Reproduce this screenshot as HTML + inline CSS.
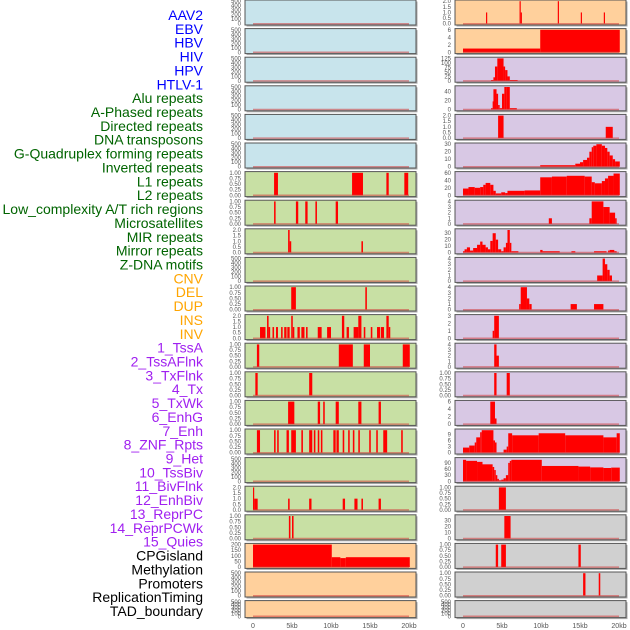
<!DOCTYPE html>
<html><head><meta charset="utf-8"><style>
body{margin:0;background:#fff;width:630px;height:630px;overflow:hidden}
svg{display:block;font-family:"Liberation Sans",sans-serif}
</style></head><body>
<svg id="c" width="630" height="630" viewBox="0 0 630 630"></svg>
<script>
const trackLabels=["AAV2","EBV","HBV","HIV","HPV","HTLV-1","Alu repeats","A-Phased repeats","Directed repeats","DNA transposons","G-Quadruplex forming repeats","Inverted repeats","L1 repeats","L2 repeats","Low_complexity A/T rich regions","Microsatellites","MIR repeats","Mirror repeats","Z-DNA motifs","CNV","DEL","DUP","INS","INV","1_TssA","2_TssAFlnk","3_TxFlnk","4_Tx","5_TxWk","6_EnhG","7_Enh","8_ZNF_Rpts","9_Het","10_TssBiv","11_BivFlnk","12_EnhBiv","13_ReprPC","14_ReprPCWk","15_Quies","CPGisland","Methylation","Promoters","ReplicationTiming","TAD_boundary"];
const labelGroups=["viral","viral","viral","viral","viral","viral","rep","rep","rep","rep","rep","rep","rep","rep","rep","rep","rep","rep","rep","sv","sv","sv","sv","sv","cs","cs","cs","cs","cs","cs","cs","cs","cs","cs","cs","cs","cs","cs","cs","oth","oth","oth","oth","oth"];
const T500=["0","100","200","300","400","500"],T1=["0.00","0.25","0.50","0.75","1.00"],T2=["0.0","0.5","1.0","1.5","2.0"];
const trackTicks=[T500,T500,T500,T500,T500,T500,T1,T1,T2,T500,T1,T2,T1,T1,T1,T1,T500,T2,T1,["0","50","100","150","200"],T500,T500,
T2,["0","2","4","6"],["0","25","50","75","100","125"],["0","20","40"],T2,["0","10","20","30"],["0","20","40","60"],["0","1","2","3","4"],["0","10","20","30"],["0","1","2","3","4"],["0","1","2","3","4"],["0","1","2","3"],["0","1","2","3","4"],T1,["0","2","4","6"],["0","3","6","9"],["0","30","60","90"],T1,["0","10","20","30"],T1,T1,T500];
const trackMax=[500,500,500,500,500,500,1,1,2,500,1,2,1,1,1,1,500,2,1,200,500,500,2,6,125,50,2,30,60,4,35,4,4,3,4,1,6,11,110,1,38,1,1,500];
const trackSegments=[[],[],[],[],[],[],
[[2.7,3.2,1],[12.7,14.1,1],[17.1,17.4,1],[19.4,19.9,1]],
[[2.7,2.9,1],[5.5,5.8,1],[6.7,7.0,1],[8.0,8.2,1],[10.6,10.9,1]],
[[4.5,4.7,2],[4.7,4.9,1],[13.9,14.1,1]],
[],
[[4.9,5.5,1],[14.4,14.6,1]],
[[0.9,1.6,1],[1.8,2.0,2],[2.0,2.2,1],[2.5,2.7,1],[2.95,3.2,1],[3.6,3.8,1],[4.0,4.3,1],[4.4,4.7,1],[4.9,5.1,2],[5.1,5.3,1],[5.7,6.0,1],[6.2,6.6,1],[6.8,7.0,1],[8.3,8.8,1],[9.5,10.0,1],[11.4,11.7,2],[12.0,12.3,1],[12.9,13.5,1],[13.5,13.9,2],[14.2,14.4,1],[15.1,15.3,1],[15.9,16.3,1],[16.4,16.8,1],[17.1,17.4,2],[17.4,17.6,1]],
[[0.5,0.8,1],[11.0,12.8,1],[14.2,15.0,1],[19.2,20.1,1]],
[[0.3,0.6,1],[7.2,7.6,1]],
[[4.5,5.3,1],[8.3,8.6,1],[9.0,9.2,1],[10.6,11.0,1],[13.5,13.9,1],[16.1,16.4,1]],
[[0.5,0.9,1],[2.7,2.9,1],[3.1,3.3,1],[4.3,4.6,1],[4.9,5.5,1],[6.2,6.4,1],[7.2,7.6,1],[7.8,8.0,1],[8.3,8.5,1],[8.7,8.9,1],[10.3,10.6,1],[10.7,11.0,1],[11.5,11.7,1],[12.2,12.4,1],[12.8,13.0,1],[13.5,13.7,1],[14.9,15.1,1],[15.8,16.0,1],[16.7,17.2,1],[19.0,19.2,1]],
[],
[[0,0.15,2],[0.15,0.6,1],[4.5,4.7,1],[7.2,7.5,1],[11.5,11.8,1],[13.0,13.4,1],[13.9,14.1,1],[16.1,16.4,1]],
[[4.6,4.8,1],[5.0,5.2,1]],
[[0,10.1,200],[10.1,11.2,88],[11.2,11.9,80],[11.9,20.1,88]],
[],[],
[[2.95,3.1,1],[7.25,7.4,2],[7.4,7.5,1],[12.15,12.3,2],[15.1,15.25,1],[18.05,18.2,1]],
[[0,9.9,1],[9.9,20.1,6]],
[[3.6,3.9,5],[3.9,4.1,20],[4.1,4.4,80],[4.4,5.2,125],[5.2,5.4,80],[5.4,5.7,60],[5.7,6.0,25],[6.0,7.0,5]],
[[3.6,3.8,3],[3.8,3.9,18],[3.9,4.3,45],[4.3,4.5,35],[4.5,4.7,10],[4.7,5.0,3],[5.0,5.3,35],[5.3,5.6,60],[5.6,6.0,50],[6.0,6.9,3]],
[[4.5,5.2,2],[18.3,19.2,1]],
[[9.9,14.4,2],[14.4,15.0,4],[15.0,15.4,6],[15.4,15.9,9],[15.9,16.2,12],[16.2,16.5,20],[16.5,16.7,26],[16.7,17.1,28],[17.1,17.8,30],[17.8,18.2,28],[18.2,18.5,25],[18.5,18.8,20],[18.8,19.2,15],[19.2,19.5,10],[19.5,20.1,7]],
[[0,0.7,18],[0.7,1.5,22],[1.5,2.2,20],[2.2,2.6,22],[2.6,2.9,28],[2.9,3.5,33],[3.5,3.9,28],[3.9,4.2,12],[4.2,4.9,5],[4.9,5.4,8],[5.4,5.7,6],[5.7,7.9,12],[7.9,9.9,13],[9.9,11.4,48],[11.4,13.3,50],[13.3,15.6,52],[15.6,16.5,50],[16.5,16.9,35],[16.9,17.8,32],[17.8,18.2,38],[18.2,18.6,45],[18.6,19.3,52],[19.3,20.1,58]],
[[11.0,11.4,1],[16.2,16.5,1],[16.5,18.0,4],[18.0,18.8,3],[18.8,19.5,2],[19.5,19.7,1]],
[[0,0.2,2],[0.2,0.5,5],[0.5,0.9,8],[0.9,1.3,3],[1.3,1.8,7],[1.8,2.2,12],[2.2,2.5,17],[2.5,2.9,12],[2.9,3.2,8],[3.2,3.5,5],[3.5,3.8,18],[3.8,4.2,30],[4.2,4.5,20],[4.5,4.9,5],[4.9,5.2,2],[5.2,5.5,8],[5.5,5.7,15],[5.7,6.0,35],[6.0,6.2,15],[6.2,7.1,2],[9.9,10.2,4],[10.2,12.4,2],[13.9,14.4,2],[16.8,18.4,2],[18.6,18.8,3],[18.8,19.4,4],[19.4,19.7,2]],
[[17.2,17.9,1],[17.9,18.2,4],[18.2,18.5,3],[18.5,18.8,2],[18.8,19.1,1]],
[[7.2,7.4,1],[7.4,8.2,4],[8.2,8.5,2],[8.5,8.8,1],[13.8,14.6,1],[16.8,18.0,1]],
[[3.8,4.0,1],[4.0,4.6,3]],
[[4.0,4.3,4],[4.3,4.6,2]],
[[4.0,4.3,1],[5.6,6.0,1]],
[[3.5,4.1,6],[4.1,4.3,1.5]],
[[0,0.8,2.5],[0.8,1.5,3.5],[1.5,1.7,5],[1.7,2.2,7.5],[2.2,2.4,10],[2.4,3.9,11],[3.9,4.1,6],[4.1,4.3,5],[5.2,5.6,1.5],[5.6,5.8,3],[5.8,6.3,9.5],[6.3,9.7,8.5],[9.7,13.1,9.5],[13.1,18.0,8.5],[18.0,19.7,7.5],[19.7,20.1,9.5]],
[[0,0.4,105],[0.4,1.8,100],[1.8,2.5,95],[2.5,3.8,83],[3.8,4.0,70],[4.0,4.2,55],[4.2,4.4,30],[4.4,4.6,12],[4.6,4.9,5],[4.9,5.2,8],[5.2,5.5,15],[5.5,5.8,30],[5.8,6.0,90],[6.0,6.2,100],[6.2,10.1,105],[10.1,14.8,75],[14.8,16.3,72],[16.3,18.0,68],[18.0,19.0,65],[19.0,20.1,67]],
[[4.6,5.5,1]],
[[5.3,6.1,40]],
[[4.2,4.5,1],[4.9,5.5,1],[14.8,15.1,1]],
[[15.4,15.7,1],[17.4,17.6,1]],
[]];
const xTicks=[0,5,10,15,20];
const xTickLabels=["0","5kb","10kb","15kb","20kb"];

const NS="http://www.w3.org/2000/svg";
const svg=document.getElementById('c');
function mk(tag,attrs,parent){const e=document.createElementNS(NS,tag);for(const k in attrs)e.setAttribute(k,attrs[k]);(parent||svg).appendChild(e);return e;}
const groupColor={viral:"#0000ff",rep:"#006400",sv:"#ffa500",cs:"#a020f0",oth:"#000000"};
const bgColor={viral:"#c8e4ec",rep:"#c8e0a4",sv:"#ffd09c",cs:"#d8c8e4",oth:"#d0d0d0"};
const colX=[245,455],colW=171;
function xScale(col,kb){return colX[col]+8+kb*7.8;}
const ROW=28.6;
trackLabels.forEach((name,i)=>{
  const t=mk('text',{x:203,y:15+i*13.86+5,'text-anchor':'end','font-size':14,fill:groupColor[labelGroups[i]]});
  t.textContent=name;
  
  
});
trackLabels.forEach((name,i)=>{
  const col=i<22?0:1,row=i%22;
  const top=row*ROW,h=row===21?17:25;
  const g=mk('g',{});
  
  
  mk('rect',{x:colX[col]+1.5,y:top+1.5,width:colW,height:h,fill:'#aaa'},g);
  mk('rect',{x:colX[col],y:top,width:colW,height:h,fill:bgColor[labelGroups[i]],stroke:'#555','stroke-width':1},g);
  const max=trackMax[i];
  const y0=top+h-1.3,span=h-2.5;
  const yS=v=>y0-Math.min(v,max)/max*span;
  trackTicks[i].forEach(lbl=>{
    const tt=mk('text',{x:colX[col]-4,y:yS(parseFloat(lbl))+2,'text-anchor':'end','font-size':6,fill:'#555'},g);
    tt.textContent=lbl;
    
    
  });
  trackSegments[i].forEach(s=>{
    const x1=xScale(col,s[0]),x2=xScale(col,s[1]);
    const r=mk('rect',{x:x1,y:yS(s[2]),width:Math.max(1.2,x2-x1),height:y0-yS(s[2]),fill:'#ff0000'},g);
    
    
  });
  const bl=mk('line',{x1:xScale(col,0),x2:xScale(col,20),y1:y0,y2:y0,stroke:'rgba(210,60,60,0.55)','stroke-width':1.5},g);
  
  
});
[0,1].forEach(col=>{
  xTicks.forEach((v,k)=>{
    const t=mk('text',{x:xScale(col,v),y:628,'text-anchor':'middle','font-size':7,fill:'#555'});
    t.textContent=xTickLabels[k];
    
    
  });
});
</script>
</body></html>
